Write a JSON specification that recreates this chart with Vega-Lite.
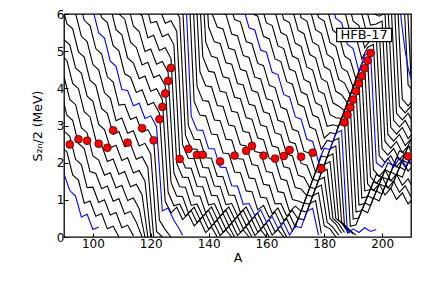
{
"$schema": "https://vega.github.io/schema/vega-lite/v6.json",
"width": 347, "height": 223,
"autosize": {"type": "none"},
"padding": {"left": 64, "top": 14, "right": 13, "bottom": 50},
"background": "white",
"config": {
 "font": "DejaVu Sans",
 "view": {"stroke": "black", "strokeWidth": 1.3},
 "axis": {"grid": false, "domain": false, "tickColor": "black", "tickSize": -4, "tickWidth": 1, "labelColor": "black", "labelFontSize": 12, "labelFont": "DejaVu Sans", "titleFont": "DejaVu Sans", "titleFontSize": 12.5, "titleFontWeight": "normal", "titleColor": "black", "labelOverlap": false, "labelFlush": false, "labelBound": false, "zindex": 1},
 "axisX": {"labelPadding": 5, "titlePadding": 2},
 "axisY": {"labelPadding": 4, "titlePadding": 12}
},
"datasets": {
"chains": [
{"z":30,"a":90,"s":1.7},{"z":30,"a":92,"s":1.25},{"z":30,"a":94,"s":1.1},{"z":30,"a":96,"s":0.54},{"z":30,"a":98,"s":0.61},{"z":30,"a":100,"s":0.2},{"z":30,"a":102,"s":0.27},
{"z":31,"a":89,"s":2.43},{"z":31,"a":91,"s":2.29},{"z":31,"a":93,"s":1.67},{"z":31,"a":95,"s":1.53},{"z":31,"a":97,"s":0.91},{"z":31,"a":99,"s":0.97},{"z":31,"a":101,"s":0.56},{"z":31,"a":103,"s":0.63},{"z":31,"a":105,"s":0.22},{"z":31,"a":107,"s":0.29},{"z":31,"a":109,"s":0.0},
{"z":32,"a":88,"s":3.47},{"z":32,"a":90,"s":2.85},{"z":32,"a":92,"s":2.71},{"z":32,"a":94,"s":2.09},{"z":32,"a":96,"s":1.95},{"z":32,"a":98,"s":1.33},{"z":32,"a":100,"s":1.34},{"z":32,"a":102,"s":0.93},{"z":32,"a":104,"s":1.0},{"z":32,"a":106,"s":0.59},{"z":32,"a":108,"s":0.66},{"z":32,"a":110,"s":0.25},{"z":32,"a":112,"s":0.32},{"z":32,"a":114,"s":0.03},
{"z":33,"a":89,"s":3.9},{"z":33,"a":91,"s":3.28},{"z":33,"a":93,"s":3.14},{"z":33,"a":95,"s":2.52},{"z":33,"a":97,"s":2.38},{"z":33,"a":99,"s":1.76},{"z":33,"a":101,"s":1.71},{"z":33,"a":103,"s":1.3},{"z":33,"a":105,"s":1.37},{"z":33,"a":107,"s":0.96},{"z":33,"a":109,"s":1.03},{"z":33,"a":111,"s":0.62},{"z":33,"a":113,"s":0.69},{"z":33,"a":115,"s":0.4},{"z":33,"a":117,"s":0.0},
{"z":34,"a":88,"s":4.46},{"z":34,"a":90,"s":4.32},{"z":34,"a":92,"s":3.7},{"z":34,"a":94,"s":3.56},{"z":34,"a":96,"s":2.94},{"z":34,"a":98,"s":2.8},{"z":34,"a":100,"s":2.18},{"z":34,"a":102,"s":2.07},{"z":34,"a":104,"s":1.66},{"z":34,"a":106,"s":1.73},{"z":34,"a":108,"s":1.32},{"z":34,"a":110,"s":1.39},{"z":34,"a":112,"s":0.98},{"z":34,"a":114,"s":1.05},{"z":34,"a":116,"s":0.76},{"z":34,"a":118,"s":0.0},
{"z":35,"a":89,"s":4.89},{"z":35,"a":91,"s":4.75},{"z":35,"a":93,"s":4.13},{"z":35,"a":95,"s":3.99},{"z":35,"a":97,"s":3.37},{"z":35,"a":99,"s":3.23},{"z":35,"a":101,"s":2.61},{"z":35,"a":103,"s":2.47},{"z":35,"a":105,"s":2.03},{"z":35,"a":107,"s":2.1},{"z":35,"a":109,"s":1.69},{"z":35,"a":111,"s":1.76},{"z":35,"a":113,"s":1.35},{"z":35,"a":115,"s":1.42},{"z":35,"a":117,"s":1.13},{"z":35,"a":119,"s":0.0},
{"z":36,"a":88,"s":5.93},{"z":36,"a":90,"s":5.31},{"z":36,"a":92,"s":5.17},{"z":36,"a":94,"s":4.55},{"z":36,"a":96,"s":4.41},{"z":36,"a":98,"s":3.79},{"z":36,"a":100,"s":3.65},{"z":36,"a":102,"s":3.03},{"z":36,"a":104,"s":2.89},{"z":36,"a":106,"s":2.4},{"z":36,"a":108,"s":2.47},{"z":36,"a":110,"s":2.06},{"z":36,"a":112,"s":2.13},{"z":36,"a":114,"s":1.72},{"z":36,"a":116,"s":1.79},{"z":36,"a":118,"s":1.5},{"z":36,"a":120,"s":0.0},
{"z":37,"a":87,"s":6.5},{"z":37,"a":89,"s":6.36},{"z":37,"a":91,"s":5.74},{"z":37,"a":93,"s":5.6},{"z":37,"a":95,"s":4.98},{"z":37,"a":97,"s":4.84},{"z":37,"a":99,"s":4.22},{"z":37,"a":101,"s":4.08},{"z":37,"a":103,"s":3.46},{"z":37,"a":105,"s":3.32},{"z":37,"a":107,"s":2.76},{"z":37,"a":109,"s":2.84},{"z":37,"a":111,"s":2.43},{"z":37,"a":113,"s":2.5},{"z":37,"a":115,"s":2.09},{"z":37,"a":117,"s":2.16},{"z":37,"a":119,"s":1.87},{"z":37,"a":121,"s":0.0},
{"z":38,"a":92,"s":6.16},{"z":38,"a":94,"s":6.02},{"z":38,"a":96,"s":5.4},{"z":38,"a":98,"s":5.26},{"z":38,"a":100,"s":4.64},{"z":38,"a":102,"s":4.5},{"z":38,"a":104,"s":3.88},{"z":38,"a":106,"s":3.74},{"z":38,"a":108,"s":3.13},{"z":38,"a":110,"s":3.2},{"z":38,"a":112,"s":2.79},{"z":38,"a":114,"s":2.86},{"z":38,"a":116,"s":2.45},{"z":38,"a":118,"s":2.52},{"z":38,"a":120,"s":2.23},{"z":38,"a":122,"s":0.15},{"z":38,"a":124,"s":0.0},
{"z":39,"a":93,"s":6.59},{"z":39,"a":95,"s":6.45},{"z":39,"a":97,"s":5.83},{"z":39,"a":99,"s":5.69},{"z":39,"a":101,"s":5.07},{"z":39,"a":103,"s":4.93},{"z":39,"a":105,"s":4.31},{"z":39,"a":107,"s":4.17},{"z":39,"a":109,"s":3.55},{"z":39,"a":111,"s":3.57},{"z":39,"a":113,"s":3.16},{"z":39,"a":115,"s":3.23},{"z":39,"a":117,"s":2.82},{"z":39,"a":119,"s":2.89},{"z":39,"a":121,"s":2.6},{"z":39,"a":123,"s":0.45},{"z":39,"a":125,"s":0.2},{"z":39,"a":127,"s":0.0},
{"z":40,"a":98,"s":6.25},{"z":40,"a":100,"s":6.11},{"z":40,"a":102,"s":5.49},{"z":40,"a":104,"s":5.35},{"z":40,"a":106,"s":4.73},{"z":40,"a":108,"s":4.59},{"z":40,"a":110,"s":3.97},{"z":40,"a":112,"s":3.94},{"z":40,"a":114,"s":3.53},{"z":40,"a":116,"s":3.6},{"z":40,"a":118,"s":3.19},{"z":40,"a":120,"s":3.26},{"z":40,"a":122,"s":2.97},{"z":40,"a":124,"s":0.7},{"z":40,"a":126,"s":0.78},{"z":40,"a":128,"s":0.45},{"z":40,"a":130,"s":0.2},{"z":40,"a":131,"s":0.05},
{"z":41,"a":101,"s":6.53},{"z":41,"a":103,"s":5.91},{"z":41,"a":105,"s":5.77},{"z":41,"a":107,"s":5.15},{"z":41,"a":109,"s":5.01},{"z":41,"a":111,"s":4.39},{"z":41,"a":113,"s":4.3},{"z":41,"a":115,"s":3.89},{"z":41,"a":117,"s":3.96},{"z":41,"a":119,"s":3.55},{"z":41,"a":121,"s":3.62},{"z":41,"a":123,"s":3.33},{"z":41,"a":125,"s":0.96},{"z":41,"a":127,"s":0.65},{"z":41,"a":129,"s":0.8},{"z":41,"a":131,"s":0.47},{"z":41,"a":133,"s":0.62},{"z":41,"a":135,"s":0.3},{"z":41,"a":137,"s":0.45},{"z":41,"a":139,"s":0.12},{"z":41,"a":141,"s":0.27},{"z":41,"a":143,"s":0.0},
{"z":42,"a":102,"s":6.96},{"z":42,"a":104,"s":6.34},{"z":42,"a":106,"s":6.2},{"z":42,"a":108,"s":5.58},{"z":42,"a":110,"s":5.44},{"z":42,"a":112,"s":4.82},{"z":42,"a":114,"s":4.68},{"z":42,"a":116,"s":4.26},{"z":42,"a":118,"s":4.33},{"z":42,"a":120,"s":3.92},{"z":42,"a":122,"s":3.99},{"z":42,"a":124,"s":3.7},{"z":42,"a":126,"s":1.21},{"z":42,"a":128,"s":0.84},{"z":42,"a":130,"s":0.89},{"z":42,"a":132,"s":0.56},{"z":42,"a":134,"s":0.71},{"z":42,"a":136,"s":0.39},{"z":42,"a":138,"s":0.54},{"z":42,"a":140,"s":0.21},{"z":42,"a":142,"s":0.36},{"z":42,"a":144,"s":0.04},{"z":42,"a":146,"s":0.19},{"z":42,"a":148,"s":0.0},
{"z":43,"a":107,"s":6.62},{"z":43,"a":109,"s":6.0},{"z":43,"a":111,"s":5.86},{"z":43,"a":113,"s":5.24},{"z":43,"a":115,"s":5.1},{"z":43,"a":117,"s":4.63},{"z":43,"a":119,"s":4.7},{"z":43,"a":121,"s":4.29},{"z":43,"a":123,"s":4.36},{"z":43,"a":125,"s":4.07},{"z":43,"a":127,"s":1.47},{"z":43,"a":129,"s":1.1},{"z":43,"a":131,"s":1.09},{"z":43,"a":133,"s":0.65},{"z":43,"a":135,"s":0.8},{"z":43,"a":137,"s":0.48},{"z":43,"a":139,"s":0.63},{"z":43,"a":141,"s":0.3},{"z":43,"a":143,"s":0.45},{"z":43,"a":145,"s":0.13},{"z":43,"a":147,"s":0.28},{"z":43,"a":149,"s":0.0},
{"z":44,"a":110,"s":6.43},{"z":44,"a":112,"s":6.29},{"z":44,"a":114,"s":5.67},{"z":44,"a":116,"s":5.53},{"z":44,"a":118,"s":4.99},{"z":44,"a":120,"s":5.06},{"z":44,"a":122,"s":4.65},{"z":44,"a":124,"s":4.72},{"z":44,"a":126,"s":4.43},{"z":44,"a":128,"s":1.72},{"z":44,"a":130,"s":1.35},{"z":44,"a":132,"s":1.34},{"z":44,"a":134,"s":0.85},{"z":44,"a":136,"s":0.89},{"z":44,"a":138,"s":0.56},{"z":44,"a":140,"s":0.72},{"z":44,"a":142,"s":0.39},{"z":44,"a":144,"s":0.54},{"z":44,"a":146,"s":0.21},{"z":44,"a":148,"s":0.37},{"z":44,"a":150,"s":0.04},{"z":44,"a":152,"s":0.19},{"z":44,"a":154,"s":0.0},
{"z":45,"a":113,"s":6.71},{"z":45,"a":115,"s":6.09},{"z":45,"a":117,"s":5.95},{"z":45,"a":119,"s":5.36},{"z":45,"a":121,"s":5.43},{"z":45,"a":123,"s":5.02},{"z":45,"a":125,"s":5.09},{"z":45,"a":127,"s":4.8},{"z":45,"a":129,"s":1.98},{"z":45,"a":131,"s":1.61},{"z":45,"a":133,"s":1.6},{"z":45,"a":135,"s":1.11},{"z":45,"a":137,"s":1.1},{"z":45,"a":139,"s":0.65},{"z":45,"a":141,"s":0.81},{"z":45,"a":143,"s":0.48},{"z":45,"a":145,"s":0.63},{"z":45,"a":147,"s":0.3},{"z":45,"a":149,"s":0.46},{"z":45,"a":151,"s":0.13},{"z":45,"a":153,"s":0.28},{"z":45,"a":155,"s":0.0},
{"z":46,"a":116,"s":6.52},{"z":46,"a":118,"s":6.38},{"z":46,"a":120,"s":5.76},{"z":46,"a":122,"s":5.8},{"z":46,"a":124,"s":5.39},{"z":46,"a":126,"s":5.46},{"z":46,"a":128,"s":5.17},{"z":46,"a":130,"s":2.23},{"z":46,"a":132,"s":1.86},{"z":46,"a":134,"s":1.85},{"z":46,"a":136,"s":1.36},{"z":46,"a":138,"s":1.35},{"z":46,"a":140,"s":0.86},{"z":46,"a":142,"s":0.9},{"z":46,"a":144,"s":0.57},{"z":46,"a":146,"s":0.72},{"z":46,"a":148,"s":0.39},{"z":46,"a":150,"s":0.55},{"z":46,"a":152,"s":0.22},{"z":46,"a":154,"s":0.37},{"z":46,"a":156,"s":0.04},{"z":46,"a":158,"s":0.2},{"z":46,"a":160,"s":0.0},
{"z":47,"a":121,"s":6.18},{"z":47,"a":123,"s":6.16},{"z":47,"a":125,"s":5.75},{"z":47,"a":127,"s":5.82},{"z":47,"a":129,"s":5.53},{"z":47,"a":131,"s":2.49},{"z":47,"a":133,"s":2.12},{"z":47,"a":135,"s":2.11},{"z":47,"a":137,"s":1.62},{"z":47,"a":139,"s":1.61},{"z":47,"a":141,"s":1.12},{"z":47,"a":143,"s":1.11},{"z":47,"a":145,"s":0.66},{"z":47,"a":147,"s":0.81},{"z":47,"a":149,"s":0.48},{"z":47,"a":151,"s":0.63},{"z":47,"a":153,"s":0.31},{"z":47,"a":155,"s":0.46},{"z":47,"a":157,"s":0.13},{"z":47,"a":159,"s":0.28},{"z":47,"a":161,"s":0.0},
{"z":48,"a":124,"s":6.53},{"z":48,"a":126,"s":6.12},{"z":48,"a":128,"s":6.19},{"z":48,"a":130,"s":5.9},{"z":48,"a":132,"s":2.74},{"z":48,"a":134,"s":2.37},{"z":48,"a":136,"s":2.36},{"z":48,"a":138,"s":1.87},{"z":48,"a":140,"s":1.86},{"z":48,"a":142,"s":1.37},{"z":48,"a":144,"s":1.36},{"z":48,"a":146,"s":0.87},{"z":48,"a":148,"s":0.9},{"z":48,"a":150,"s":0.57},{"z":48,"a":152,"s":0.72},{"z":48,"a":154,"s":0.4},{"z":48,"a":156,"s":0.55},{"z":48,"a":158,"s":0.22},{"z":48,"a":160,"s":0.37},{"z":48,"a":162,"s":0.05},{"z":48,"a":164,"s":0.2},{"z":48,"a":166,"s":0.0},
{"z":49,"a":129,"s":6.56},{"z":49,"a":131,"s":6.27},{"z":49,"a":133,"s":3.0},{"z":49,"a":135,"s":2.63},{"z":49,"a":137,"s":2.62},{"z":49,"a":139,"s":2.13},{"z":49,"a":141,"s":2.12},{"z":49,"a":143,"s":1.63},{"z":49,"a":145,"s":1.62},{"z":49,"a":147,"s":1.13},{"z":49,"a":149,"s":1.12},{"z":49,"a":151,"s":0.66},{"z":49,"a":153,"s":0.81},{"z":49,"a":155,"s":0.49},{"z":49,"a":157,"s":0.64},{"z":49,"a":159,"s":0.31},{"z":49,"a":161,"s":0.46},{"z":49,"a":163,"s":0.14},{"z":49,"a":165,"s":0.29},{"z":49,"a":167,"s":0.0},
{"z":50,"a":130,"s":6.92},{"z":50,"a":132,"s":6.63},{"z":50,"a":134,"s":3.25},{"z":50,"a":136,"s":2.88},{"z":50,"a":138,"s":2.87},{"z":50,"a":140,"s":2.38},{"z":50,"a":142,"s":2.37},{"z":50,"a":144,"s":1.88},{"z":50,"a":146,"s":1.87},{"z":50,"a":148,"s":1.38},{"z":50,"a":150,"s":1.37},{"z":50,"a":152,"s":0.88},{"z":50,"a":154,"s":0.9},{"z":50,"a":156,"s":0.58},{"z":50,"a":158,"s":0.73},{"z":50,"a":160,"s":0.4},{"z":50,"a":162,"s":0.55},{"z":50,"a":164,"s":0.23},{"z":50,"a":166,"s":0.38},{"z":50,"a":168,"s":0.05},{"z":50,"a":170,"s":0.29},{"z":50,"a":172,"s":0.25},{"z":50,"a":174,"s":0.69},{"z":50,"a":176,"s":0.77},{"z":50,"a":178,"s":0.05},
{"z":51,"a":133,"s":7.0},{"z":51,"a":135,"s":3.65},{"z":51,"a":137,"s":3.28},{"z":51,"a":139,"s":3.26},{"z":51,"a":141,"s":2.77},{"z":51,"a":143,"s":2.75},{"z":51,"a":145,"s":2.26},{"z":51,"a":147,"s":2.24},{"z":51,"a":149,"s":1.75},{"z":51,"a":151,"s":1.73},{"z":51,"a":153,"s":1.24},{"z":51,"a":155,"s":1.22},{"z":51,"a":157,"s":0.73},{"z":51,"a":159,"s":0.85},{"z":51,"a":161,"s":0.52},{"z":51,"a":163,"s":0.67},{"z":51,"a":165,"s":0.34},{"z":51,"a":167,"s":0.49},{"z":51,"a":169,"s":0.16},{"z":51,"a":171,"s":0.5},{"z":51,"a":173,"s":0.46},{"z":51,"a":175,"s":0.9},{"z":51,"a":177,"s":0.98},{"z":51,"a":179,"s":0.1},
{"z":52,"a":134,"s":7.4},{"z":52,"a":136,"s":4.05},{"z":52,"a":138,"s":3.67},{"z":52,"a":140,"s":3.65},{"z":52,"a":142,"s":3.15},{"z":52,"a":144,"s":3.13},{"z":52,"a":146,"s":2.63},{"z":52,"a":148,"s":2.61},{"z":52,"a":150,"s":2.11},{"z":52,"a":152,"s":2.09},{"z":52,"a":154,"s":1.59},{"z":52,"a":156,"s":1.57},{"z":52,"a":158,"s":1.07},{"z":52,"a":160,"s":1.05},{"z":52,"a":162,"s":0.63},{"z":52,"a":164,"s":0.78},{"z":52,"a":166,"s":0.45},{"z":52,"a":168,"s":0.6},{"z":52,"a":170,"s":0.27},{"z":52,"a":172,"s":0.71},{"z":52,"a":174,"s":0.67},{"z":52,"a":176,"s":1.11},{"z":52,"a":178,"s":1.19},{"z":52,"a":180,"s":0.3},{"z":52,"a":182,"s":0.22},{"z":52,"a":184,"s":0.0},
{"z":53,"a":135,"s":7.6},{"z":53,"a":137,"s":4.45},{"z":53,"a":139,"s":4.07},{"z":53,"a":141,"s":4.04},{"z":53,"a":143,"s":3.54},{"z":53,"a":145,"s":3.51},{"z":53,"a":147,"s":3.01},{"z":53,"a":149,"s":2.98},{"z":53,"a":151,"s":2.48},{"z":53,"a":153,"s":2.45},{"z":53,"a":155,"s":1.95},{"z":53,"a":157,"s":1.92},{"z":53,"a":159,"s":1.42},{"z":53,"a":161,"s":1.39},{"z":53,"a":163,"s":0.89},{"z":53,"a":165,"s":0.9},{"z":53,"a":167,"s":0.57},{"z":53,"a":169,"s":0.71},{"z":53,"a":171,"s":0.48},{"z":53,"a":173,"s":0.92},{"z":53,"a":175,"s":0.88},{"z":53,"a":177,"s":1.32},{"z":53,"a":179,"s":1.4},{"z":53,"a":181,"s":0.4},{"z":53,"a":183,"s":0.26},{"z":53,"a":185,"s":0.05},
{"z":54,"a":136,"s":7.8},{"z":54,"a":138,"s":4.85},{"z":54,"a":140,"s":4.46},{"z":54,"a":142,"s":4.43},{"z":54,"a":144,"s":3.92},{"z":54,"a":146,"s":3.89},{"z":54,"a":148,"s":3.38},{"z":54,"a":150,"s":3.35},{"z":54,"a":152,"s":2.84},{"z":54,"a":154,"s":2.81},{"z":54,"a":156,"s":2.3},{"z":54,"a":158,"s":2.27},{"z":54,"a":160,"s":1.76},{"z":54,"a":162,"s":1.73},{"z":54,"a":164,"s":1.22},{"z":54,"a":166,"s":1.19},{"z":54,"a":168,"s":0.68},{"z":54,"a":170,"s":0.83},{"z":54,"a":172,"s":0.69},{"z":54,"a":174,"s":1.13},{"z":54,"a":176,"s":1.09},{"z":54,"a":178,"s":1.53},{"z":54,"a":180,"s":1.61},{"z":54,"a":182,"s":0.5},{"z":54,"a":184,"s":0.35},{"z":54,"a":186,"s":0.1},
{"z":55,"a":137,"s":8.0},{"z":55,"a":139,"s":5.25},{"z":55,"a":141,"s":4.86},{"z":55,"a":143,"s":4.82},{"z":55,"a":145,"s":4.31},{"z":55,"a":147,"s":4.27},{"z":55,"a":149,"s":3.76},{"z":55,"a":151,"s":3.72},{"z":55,"a":153,"s":3.21},{"z":55,"a":155,"s":3.17},{"z":55,"a":157,"s":2.66},{"z":55,"a":159,"s":2.62},{"z":55,"a":161,"s":2.11},{"z":55,"a":163,"s":2.07},{"z":55,"a":165,"s":1.56},{"z":55,"a":167,"s":1.52},{"z":55,"a":169,"s":1.01},{"z":55,"a":171,"s":0.97},{"z":55,"a":173,"s":0.9},{"z":55,"a":175,"s":1.34},{"z":55,"a":177,"s":1.3},{"z":55,"a":179,"s":1.74},{"z":55,"a":181,"s":1.82},{"z":55,"a":183,"s":0.5},{"z":55,"a":185,"s":0.36},{"z":55,"a":187,"s":0.12},
{"z":56,"a":138,"s":8.2},{"z":56,"a":140,"s":5.65},{"z":56,"a":142,"s":5.25},{"z":56,"a":144,"s":5.21},{"z":56,"a":146,"s":4.69},{"z":56,"a":148,"s":4.65},{"z":56,"a":150,"s":4.13},{"z":56,"a":152,"s":4.09},{"z":56,"a":154,"s":3.57},{"z":56,"a":156,"s":3.53},{"z":56,"a":158,"s":3.01},{"z":56,"a":160,"s":2.97},{"z":56,"a":162,"s":2.45},{"z":56,"a":164,"s":2.41},{"z":56,"a":166,"s":1.89},{"z":56,"a":168,"s":1.85},{"z":56,"a":170,"s":1.33},{"z":56,"a":172,"s":1.29},{"z":56,"a":174,"s":1.11},{"z":56,"a":176,"s":1.55},{"z":56,"a":178,"s":1.51},{"z":56,"a":180,"s":1.95},{"z":56,"a":182,"s":2.03},{"z":56,"a":184,"s":0.5},{"z":56,"a":186,"s":0.38},{"z":56,"a":188,"s":0.15},
{"z":57,"a":139,"s":8.4},{"z":57,"a":141,"s":6.05},{"z":57,"a":143,"s":5.65},{"z":57,"a":145,"s":5.6},{"z":57,"a":147,"s":5.08},{"z":57,"a":149,"s":5.03},{"z":57,"a":151,"s":4.51},{"z":57,"a":153,"s":4.46},{"z":57,"a":155,"s":3.94},{"z":57,"a":157,"s":3.89},{"z":57,"a":159,"s":3.37},{"z":57,"a":161,"s":3.32},{"z":57,"a":163,"s":2.8},{"z":57,"a":165,"s":2.75},{"z":57,"a":167,"s":2.23},{"z":57,"a":169,"s":2.18},{"z":57,"a":171,"s":1.66},{"z":57,"a":173,"s":1.61},{"z":57,"a":175,"s":1.32},{"z":57,"a":177,"s":1.76},{"z":57,"a":179,"s":1.72},{"z":57,"a":181,"s":2.16},{"z":57,"a":183,"s":2.24},{"z":57,"a":185,"s":0.45},{"z":57,"a":187,"s":0.3},{"z":57,"a":189,"s":0.1},
{"z":58,"a":142,"s":6.45},{"z":58,"a":144,"s":6.04},{"z":58,"a":146,"s":5.99},{"z":58,"a":148,"s":5.46},{"z":58,"a":150,"s":5.41},{"z":58,"a":152,"s":4.88},{"z":58,"a":154,"s":4.83},{"z":58,"a":156,"s":4.3},{"z":58,"a":158,"s":4.25},{"z":58,"a":160,"s":3.72},{"z":58,"a":162,"s":3.67},{"z":58,"a":164,"s":3.14},{"z":58,"a":166,"s":3.09},{"z":58,"a":168,"s":2.56},{"z":58,"a":170,"s":2.51},{"z":58,"a":172,"s":1.98},{"z":58,"a":174,"s":1.93},{"z":58,"a":176,"s":1.53},{"z":58,"a":178,"s":1.97},{"z":58,"a":180,"s":1.93},{"z":58,"a":182,"s":2.37},{"z":58,"a":184,"s":2.45},{"z":58,"a":186,"s":0.4},{"z":58,"a":188,"s":0.25},{"z":58,"a":190,"s":0.08},
{"z":59,"a":147,"s":6.38},{"z":59,"a":149,"s":5.85},{"z":59,"a":151,"s":5.79},{"z":59,"a":153,"s":5.26},{"z":59,"a":155,"s":5.2},{"z":59,"a":157,"s":4.67},{"z":59,"a":159,"s":4.61},{"z":59,"a":161,"s":4.08},{"z":59,"a":163,"s":4.02},{"z":59,"a":165,"s":3.49},{"z":59,"a":167,"s":3.43},{"z":59,"a":169,"s":2.9},{"z":59,"a":171,"s":2.84},{"z":59,"a":173,"s":2.31},{"z":59,"a":175,"s":2.25},{"z":59,"a":177,"s":1.74},{"z":59,"a":179,"s":2.18},{"z":59,"a":181,"s":2.14},{"z":59,"a":183,"s":2.58},{"z":59,"a":185,"s":2.66},{"z":59,"a":187,"s":0.3},{"z":59,"a":189,"s":0.18},{"z":59,"a":191,"s":0.05},
{"z":60,"a":150,"s":6.23},{"z":60,"a":152,"s":6.17},{"z":60,"a":154,"s":5.63},{"z":60,"a":156,"s":5.57},{"z":60,"a":158,"s":5.03},{"z":60,"a":160,"s":4.97},{"z":60,"a":162,"s":4.43},{"z":60,"a":164,"s":4.37},{"z":60,"a":166,"s":3.83},{"z":60,"a":168,"s":3.77},{"z":60,"a":170,"s":3.23},{"z":60,"a":172,"s":3.17},{"z":60,"a":174,"s":2.63},{"z":60,"a":176,"s":2.57},{"z":60,"a":178,"s":2.03},{"z":60,"a":180,"s":2.39},{"z":60,"a":182,"s":2.35},{"z":60,"a":184,"s":2.79},{"z":60,"a":186,"s":2.87},{"z":60,"a":188,"s":0.1},{"z":60,"a":190,"s":0.22},{"z":60,"a":192,"s":0.12},{"z":60,"a":194,"s":0.25},{"z":60,"a":196,"s":0.15},{"z":60,"a":198,"s":0.2},
{"z":61,"a":153,"s":6.55},{"z":61,"a":155,"s":6.01},{"z":61,"a":157,"s":5.94},{"z":61,"a":159,"s":5.4},{"z":61,"a":161,"s":5.33},{"z":61,"a":163,"s":4.79},{"z":61,"a":165,"s":4.72},{"z":61,"a":167,"s":4.18},{"z":61,"a":169,"s":4.11},{"z":61,"a":171,"s":3.57},{"z":61,"a":173,"s":3.5},{"z":61,"a":175,"s":2.96},{"z":61,"a":177,"s":2.89},{"z":61,"a":179,"s":2.35},{"z":61,"a":181,"s":2.6},{"z":61,"a":183,"s":2.56},{"z":61,"a":185,"s":3.0},{"z":61,"a":187,"s":3.08},{"z":61,"a":189,"s":0.29},{"z":61,"a":191,"s":0.33},{"z":61,"a":193,"s":0.73},{"z":61,"a":195,"s":0.65},{"z":61,"a":197,"s":1.05},{"z":61,"a":199,"s":0.97},{"z":61,"a":201,"s":1.37},{"z":61,"a":203,"s":1.29},{"z":61,"a":205,"s":1.69},{"z":61,"a":207,"s":1.61},{"z":61,"a":209,"s":2.01},{"z":61,"a":211,"s":1.93},
{"z":62,"a":158,"s":6.31},{"z":62,"a":160,"s":5.76},{"z":62,"a":162,"s":5.69},{"z":62,"a":164,"s":5.14},{"z":62,"a":166,"s":5.07},{"z":62,"a":168,"s":4.52},{"z":62,"a":170,"s":4.45},{"z":62,"a":172,"s":3.9},{"z":62,"a":174,"s":3.83},{"z":62,"a":176,"s":3.28},{"z":62,"a":178,"s":3.21},{"z":62,"a":180,"s":2.66},{"z":62,"a":182,"s":2.81},{"z":62,"a":184,"s":2.77},{"z":62,"a":186,"s":3.21},{"z":62,"a":188,"s":3.29},{"z":62,"a":190,"s":0.48},{"z":62,"a":192,"s":0.52},{"z":62,"a":194,"s":0.92},{"z":62,"a":196,"s":0.84},{"z":62,"a":198,"s":1.24},{"z":62,"a":200,"s":1.16},{"z":62,"a":202,"s":1.56},{"z":62,"a":204,"s":1.48},{"z":62,"a":206,"s":1.88},{"z":62,"a":208,"s":1.8},{"z":62,"a":210,"s":2.2},
{"z":63,"a":161,"s":6.13},{"z":63,"a":163,"s":6.05},{"z":63,"a":165,"s":5.5},{"z":63,"a":167,"s":5.42},{"z":63,"a":169,"s":4.87},{"z":63,"a":171,"s":4.79},{"z":63,"a":173,"s":4.24},{"z":63,"a":175,"s":4.16},{"z":63,"a":177,"s":3.61},{"z":63,"a":179,"s":3.53},{"z":63,"a":181,"s":2.98},{"z":63,"a":183,"s":3.02},{"z":63,"a":185,"s":2.98},{"z":63,"a":187,"s":3.42},{"z":63,"a":189,"s":3.5},{"z":63,"a":191,"s":0.67},{"z":63,"a":193,"s":0.71},{"z":63,"a":195,"s":1.11},{"z":63,"a":197,"s":1.03},{"z":63,"a":199,"s":1.43},{"z":63,"a":201,"s":1.35},{"z":63,"a":203,"s":1.75},{"z":63,"a":205,"s":1.67},{"z":63,"a":207,"s":2.07},{"z":63,"a":209,"s":1.99},{"z":63,"a":211,"s":2.39},
{"z":64,"a":164,"s":6.41},{"z":64,"a":166,"s":5.85},{"z":64,"a":168,"s":5.77},{"z":64,"a":170,"s":5.21},{"z":64,"a":172,"s":5.13},{"z":64,"a":174,"s":4.57},{"z":64,"a":176,"s":4.49},{"z":64,"a":178,"s":3.93},{"z":64,"a":180,"s":3.85},{"z":64,"a":182,"s":3.29},{"z":64,"a":184,"s":3.21},{"z":64,"a":186,"s":3.19},{"z":64,"a":188,"s":3.63},{"z":64,"a":190,"s":3.71},{"z":64,"a":192,"s":0.86},{"z":64,"a":194,"s":0.9},{"z":64,"a":196,"s":1.3},{"z":64,"a":198,"s":1.22},{"z":64,"a":200,"s":1.62},{"z":64,"a":202,"s":1.54},{"z":64,"a":204,"s":1.94},{"z":64,"a":206,"s":1.86},{"z":64,"a":208,"s":2.26},{"z":64,"a":210,"s":2.18},
{"z":65,"a":167,"s":6.21},{"z":65,"a":169,"s":6.12},{"z":65,"a":171,"s":5.56},{"z":65,"a":173,"s":5.47},{"z":65,"a":175,"s":4.91},{"z":65,"a":177,"s":4.82},{"z":65,"a":179,"s":4.26},{"z":65,"a":181,"s":4.17},{"z":65,"a":183,"s":3.61},{"z":65,"a":185,"s":3.52},{"z":65,"a":187,"s":3.4},{"z":65,"a":189,"s":3.84},{"z":65,"a":191,"s":3.92},{"z":65,"a":193,"s":1.05},{"z":65,"a":195,"s":1.09},{"z":65,"a":197,"s":1.49},{"z":65,"a":199,"s":1.41},{"z":65,"a":201,"s":1.81},{"z":65,"a":203,"s":1.73},{"z":65,"a":205,"s":2.13},{"z":65,"a":207,"s":2.05},{"z":65,"a":209,"s":2.45},{"z":65,"a":211,"s":2.37},
{"z":66,"a":170,"s":6.47},{"z":66,"a":172,"s":5.9},{"z":66,"a":174,"s":5.81},{"z":66,"a":176,"s":5.24},{"z":66,"a":178,"s":5.15},{"z":66,"a":180,"s":4.58},{"z":66,"a":182,"s":4.49},{"z":66,"a":184,"s":3.92},{"z":66,"a":186,"s":3.83},{"z":66,"a":188,"s":3.61},{"z":66,"a":190,"s":4.05},{"z":66,"a":192,"s":4.13},{"z":66,"a":194,"s":1.24},{"z":66,"a":196,"s":1.28},{"z":66,"a":198,"s":1.68},{"z":66,"a":200,"s":1.6},{"z":66,"a":202,"s":2.0},{"z":66,"a":204,"s":1.92},{"z":66,"a":206,"s":2.32},{"z":66,"a":208,"s":2.24},{"z":66,"a":210,"s":2.64},
{"z":67,"a":173,"s":6.25},{"z":67,"a":175,"s":6.15},{"z":67,"a":177,"s":5.58},{"z":67,"a":179,"s":5.48},{"z":67,"a":181,"s":4.91},{"z":67,"a":183,"s":4.81},{"z":67,"a":185,"s":4.24},{"z":67,"a":187,"s":4.14},{"z":67,"a":189,"s":3.82},{"z":67,"a":191,"s":4.26},{"z":67,"a":193,"s":4.34},{"z":67,"a":195,"s":1.43},{"z":67,"a":197,"s":1.25},{"z":67,"a":199,"s":1.43},{"z":67,"a":201,"s":1.13},{"z":67,"a":203,"s":1.31},{"z":67,"a":205,"s":1.01},{"z":67,"a":207,"s":1.19},{"z":67,"a":209,"s":0.89},{"z":67,"a":211,"s":1.07},
{"z":68,"a":176,"s":6.49},{"z":68,"a":178,"s":5.91},{"z":68,"a":180,"s":5.81},{"z":68,"a":182,"s":5.23},{"z":68,"a":184,"s":5.13},{"z":68,"a":186,"s":4.55},{"z":68,"a":188,"s":4.45},{"z":68,"a":190,"s":4.03},{"z":68,"a":192,"s":4.47},{"z":68,"a":194,"s":4.55},{"z":68,"a":196,"s":1.62},{"z":68,"a":198,"s":1.44},{"z":68,"a":200,"s":1.62},{"z":68,"a":202,"s":1.32},{"z":68,"a":204,"s":1.5},{"z":68,"a":206,"s":1.2},{"z":68,"a":208,"s":1.38},{"z":68,"a":210,"s":1.08},
{"z":69,"a":179,"s":6.25},{"z":69,"a":181,"s":6.14},{"z":69,"a":183,"s":5.56},{"z":69,"a":185,"s":5.45},{"z":69,"a":187,"s":4.87},{"z":69,"a":189,"s":4.76},{"z":69,"a":191,"s":4.24},{"z":69,"a":193,"s":4.68},{"z":69,"a":195,"s":4.76},{"z":69,"a":197,"s":1.81},{"z":69,"a":199,"s":1.63},{"z":69,"a":201,"s":1.81},{"z":69,"a":203,"s":1.51},{"z":69,"a":205,"s":1.69},{"z":69,"a":207,"s":1.39},{"z":69,"a":209,"s":1.57},{"z":69,"a":211,"s":1.27},
{"z":70,"a":182,"s":6.47},{"z":70,"a":184,"s":5.88},{"z":70,"a":186,"s":5.77},{"z":70,"a":188,"s":5.18},{"z":70,"a":190,"s":5.07},{"z":70,"a":192,"s":4.45},{"z":70,"a":194,"s":4.89},{"z":70,"a":196,"s":4.97},{"z":70,"a":198,"s":2.0},{"z":70,"a":200,"s":1.88},{"z":70,"a":202,"s":2.12},{"z":70,"a":204,"s":1.88},{"z":70,"a":206,"s":2.12},{"z":70,"a":208,"s":1.88},{"z":70,"a":210,"s":2.12},
{"z":71,"a":185,"s":6.21},{"z":71,"a":187,"s":6.09},{"z":71,"a":189,"s":5.5},{"z":71,"a":191,"s":5.38},{"z":71,"a":193,"s":4.79},{"z":71,"a":195,"s":5.1},{"z":71,"a":197,"s":5.18},{"z":71,"a":199,"s":2.19},{"z":71,"a":201,"s":2.01},{"z":71,"a":203,"s":2.19},{"z":71,"a":205,"s":1.89},{"z":71,"a":207,"s":2.07},{"z":71,"a":209,"s":1.77},{"z":71,"a":211,"s":1.95},
{"z":72,"a":188,"s":6.41},{"z":72,"a":190,"s":5.81},{"z":72,"a":192,"s":5.69},{"z":72,"a":194,"s":5.09},{"z":72,"a":196,"s":5.31},{"z":72,"a":198,"s":5.39},{"z":72,"a":200,"s":2.38},{"z":72,"a":202,"s":2.2},{"z":72,"a":204,"s":2.38},{"z":72,"a":206,"s":2.08},{"z":72,"a":208,"s":2.26},{"z":72,"a":210,"s":1.96},
{"z":73,"a":191,"s":6.13},{"z":73,"a":193,"s":6.0},{"z":73,"a":195,"s":5.4},{"z":73,"a":197,"s":5.52},{"z":73,"a":199,"s":5.6},{"z":73,"a":201,"s":2.57},{"z":73,"a":203,"s":2.39},{"z":73,"a":205,"s":2.57},{"z":73,"a":207,"s":2.27},{"z":73,"a":209,"s":2.45},{"z":73,"a":211,"s":2.15},
{"z":74,"a":194,"s":6.31},{"z":74,"a":196,"s":5.7},{"z":74,"a":198,"s":5.73},{"z":74,"a":200,"s":5.81},{"z":74,"a":202,"s":2.76},{"z":74,"a":204,"s":2.58},{"z":74,"a":206,"s":2.76},{"z":74,"a":208,"s":2.46},{"z":74,"a":210,"s":2.64},
{"z":75,"a":195,"s":6.62},{"z":75,"a":197,"s":6.01},{"z":75,"a":199,"s":5.94},{"z":75,"a":201,"s":6.02},{"z":75,"a":203,"s":2.95},{"z":75,"a":205,"s":2.77},{"z":75,"a":207,"s":2.95},{"z":75,"a":209,"s":2.65},{"z":75,"a":211,"s":2.83},
{"z":76,"a":200,"s":6.5},{"z":76,"a":202,"s":6.23},{"z":76,"a":204,"s":3.14},{"z":76,"a":206,"s":2.96},{"z":76,"a":208,"s":3.14},{"z":76,"a":210,"s":2.84},
{"z":77,"a":201,"s":6.8},{"z":77,"a":203,"s":6.44},{"z":77,"a":205,"s":3.33},{"z":77,"a":207,"s":3.15},{"z":77,"a":209,"s":3.33},{"z":77,"a":211,"s":3.03},
{"z":78,"a":202,"s":7.0},{"z":78,"a":204,"s":6.65},{"z":78,"a":206,"s":3.52},{"z":78,"a":208,"s":3.34},{"z":78,"a":210,"s":3.52},
{"z":79,"a":203,"s":7.2},{"z":79,"a":205,"s":6.86},{"z":79,"a":207,"s":3.71},{"z":79,"a":209,"s":3.53},{"z":79,"a":211,"s":3.71},
{"z":80,"a":204,"s":7.2},{"z":80,"a":206,"s":6.3},{"z":80,"a":207,"s":5.6},{"z":80,"a":208,"s":5.0},{"z":80,"a":209,"s":4.55},{"z":80,"a":210,"s":4.25},
{"z":81,"a":205,"s":7.4},{"z":81,"a":207,"s":7.28},{"z":81,"a":209,"s":4.09},{"z":81,"a":211,"s":3.91},
{"z":82,"a":206,"s":7.6},{"z":82,"a":208,"s":7.49},{"z":82,"a":210,"s":4.28}
],
"dots": [
{"a":92,"s":2.49},{"a":95,"s":2.63},{"a":98,"s":2.59},{"a":102,"s":2.51},{"a":105,"s":2.4},{"a":107,"s":2.87},{"a":112,"s":2.54},{"a":117,"s":2.93},{"a":121,"s":2.6},{"a":123,"s":3.17},{"a":124,"s":3.5},{"a":125,"s":3.86},{"a":126,"s":4.2},{"a":127,"s":4.55},{"a":130,"s":2.1},{"a":133,"s":2.37},{"a":136,"s":2.21},{"a":138,"s":2.21},{"a":144,"s":2.03},{"a":149,"s":2.19},{"a":153,"s":2.32},{"a":155,"s":2.45},{"a":159,"s":2.19},{"a":163,"s":2.11},{"a":166,"s":2.18},{"a":168,"s":2.34},{"a":172,"s":2.16},{"a":176,"s":2.27},{"a":179,"s":1.84},{"a":187,"s":3.08},{"a":188,"s":3.29},{"a":189,"s":3.49},{"a":190,"s":3.7},{"a":191,"s":3.92},{"a":192,"s":4.13},{"a":193,"s":4.33},{"a":194,"s":4.54},{"a":195,"s":4.75},{"a":196,"s":4.95},{"a":209,"s":2.17}
],
"label": [{"a":193.8,"s":5.435,"t":"HFB-17"}]
},
"encoding": {
 "x":{"field":"a","type":"quantitative","title":"A","scale":{"domain":[90,210],"nice":false,"zero":false},"axis":{"values":[100,120,140,160,180,200],"labelOverlap":false}},
 "y":{"field":"s","type":"quantitative","title":"S₂ₙ/2  (MeV)","scale":{"domain":[0,6],"nice":false,"zero":false},"axis":{"values":[0,1,2,3,4,5,6],"labelOverlap":false}}
},
"layer": [
{"data":{"name":"chains"},"transform":[{"filter":"datum.z % 10 != 0"}],
 "mark":{"type":"line","clip":true,"color":"black","strokeWidth":1.1},
 "encoding":{"detail":{"field":"z","type":"nominal"}}},
{"data":{"name":"chains"},"transform":[{"filter":"datum.z % 10 == 0"}],
 "mark":{"type":"line","clip":true,"color":"#0000ff","strokeWidth":1.1},
 "encoding":{"detail":{"field":"z","type":"nominal"}}},
{"data":{"name":"dots"},
 "mark":{"type":"point","filled":true,"fill":"#ff0000","stroke":"black","strokeWidth":0.6,"size":62,"opacity":1,"clip":true}},
{"data":{"name":"label"},
 "mark":{"type":"point","shape":"M-1,-0.244L1,-0.244L1,0.244L-1,0.244Z","size":3025,"filled":true,"fill":"white","stroke":"black","strokeWidth":1.2,"opacity":1}},
{"data":{"name":"label"},
 "mark":{"type":"text","font":"DejaVu Sans","fontSize":13,"align":"center","baseline":"middle","color":"black"},
 "encoding":{"text":{"field":"t"}}}
]
}
